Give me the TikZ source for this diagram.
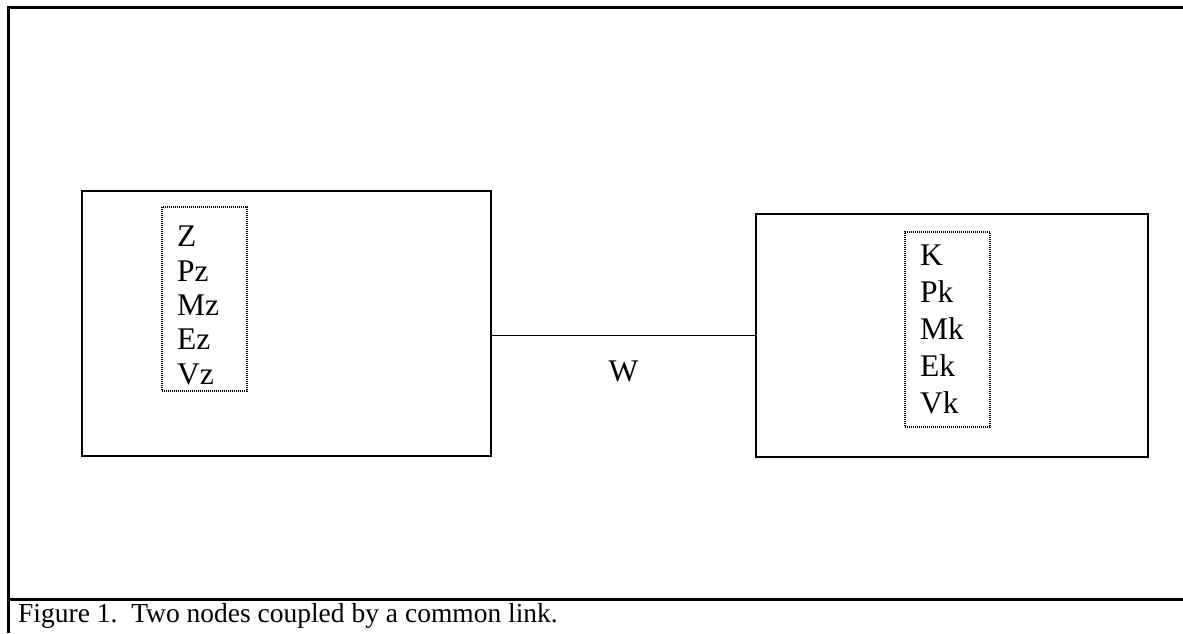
\documentclass[tikz,border=0pt]{standalone}
\usepackage{fontspec}
\setmainfont{Liberation Serif}
\usetikzlibrary{positioning}

\begin{document}
\begin{tikzpicture}[
    x=1pt, y=-1pt,
    font={\fontsize{31.5}{34.3}\selectfont},
    frame/.style={line width=2.5pt},
    unit/.style={draw, line width=1.8pt, inner sep=0pt},
    list/.style={draw, dash pattern=on 1pt off 1pt, line width=1.6pt, inner sep=0pt, minimum width=85pt},
    entries/.style={inner sep=0pt, align=left, anchor=base west},
    caption/.style={font={\fontsize{27.5}{30}\selectfont}, anchor=base west, inner sep=0pt},
]
    \useasboundingbox (0,0) rectangle (1183,633);

    % outer frame and caption
    \draw[frame] (8.5,633) -- (8.5,7.5) -- (1183,7.5);
    \draw[frame] (8.5,599.5) -- (1183,599.5);
    \node[caption] (figcap) at (18,622) {Figure 1.\ \ Two nodes coupled by a common link.};

    % the two nodes
    \node[unit, minimum width=409pt, minimum height=265pt] (zunit) at (286.5,323.5) {};
    \node[unit, minimum width=392pt, minimum height=243pt] (kunit) at (952,335.5) {};

    \node[list, minimum height=184pt] (zlist) at (204.5,299) {};
    \node[entries] (zentries) at (177,384) {Z\\Pz\\Mz\\Ez\\Vz};

    \node[list, minimum height=195pt] (klist) at (947.5,329.5) {};
    \node[entries, font={\fontsize{31.5}{37}\selectfont}] (kentries) at (920,413) {K\\Pk\\Mk\\Ek\\Vk};

    % common link
    \draw[line width=1.8pt] (zunit.east |- kunit.west) -- (kunit.west);
    \node (wlabel) at (623.5,371) {W};

\end{tikzpicture}
\end{document}
